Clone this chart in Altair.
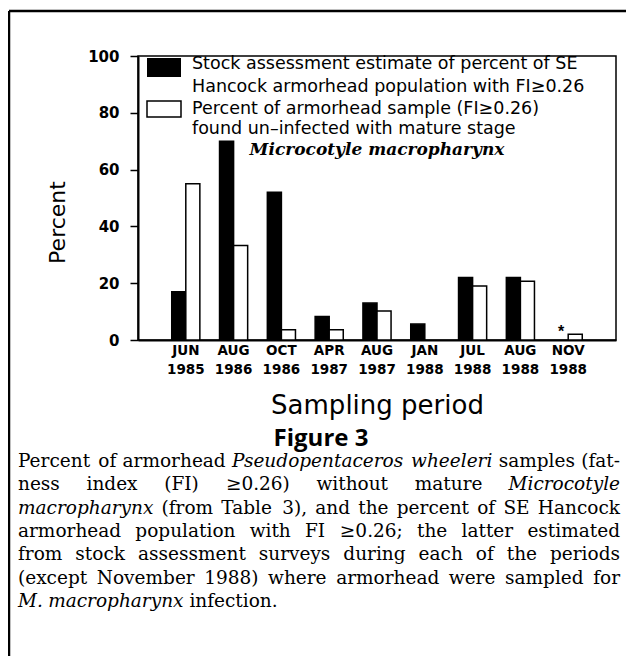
import altair as alt
import pandas as pd

# ---------------- data ----------------
periods = ["JUN 1985", "AUG 1986", "OCT 1986", "APR 1987", "AUG 1987",
           "JAN 1988", "JUL 1988", "AUG 1988", "NOV 1988"]
stock_pct = [17, 70, 52, 8.3, 13, 5.6, 22, 22, None]
sample_pct = [55, 33.3, 3.6, 3.6, 10.2, None, 19, 20.7, 2]
series_order = ["stock", "sample"]

legend_lines = ["Stock assessment estimate of percent of SE",
                "Hancock armorhead population with FI\u22650.26",
                "Percent of armorhead sample (FI\u22650.26)",
                "found un\u2013infected with mature stage"]
legend_species = "Microcotyle macropharynx"
figure_title = "Figure 3"
caption_lines = [
    "Percent of armorhead _Pseudopentaceros _wheeleri samples (fat-",
    "ness index (FI) \u22650.26) without mature _Microcotyle",
    "_macropharynx (from Table 3), and the percent of SE Hancock",
    "armorhead population with FI \u22650.26; the latter estimated",
    "from stock assessment surveys during each of the periods",
    "(except November 1988) where armorhead were sampled for",
    "_M. _macropharynx infection.",
]

# ---------------- layout helpers ----------------
OX, OY = 138, 56          # page position of plot origin
W, H = 478, 284

rows = []
for p, s, m in zip(periods, stock_pct, sample_pct):
    if s is not None:
        rows.append({"period": p, "series": "stock", "value": s})
    if m is not None:
        rows.append({"period": p, "series": "sample", "value": m})
bars_df = pd.DataFrame(rows)

# approx DejaVu Serif advance widths (em)
CW = dict(zip("abcdefghijklmnopqrstuvwxyz",
              [.596, .640, .560, .640, .592, .370, .640, .644, .320, .310, .611, .320, .948,
               .644, .602, .640, .640, .478, .513, .402, .644, .565, .856, .564, .565, .527]))
CW.update({" ": .318, "(": .390, ")": .390, ".": .318, ",": .318, ";": .337, "-": .338,
           "\u2265": .838, "P": .733, "S": .685, "E": .730, "H": .872, "T": .705, "F": .695,
           "I": .420, "N": .872, "M": .995})
for d in "0123456789":
    CW[d] = .636

CAP_SIZE = 18.5


def ww(word):
    return sum(CW.get(c, .62) for c in word) * CAP_SIZE


cap_rows = []
X0, X1 = 18, 620
cy0, cdy = 461, 23.3
for i, line in enumerate(caption_lines):
    words = line.split(" ")
    y = cy0 + i * cdy - OY
    justify = i < len(caption_lines) - 1
    clean = [w[1:] if w.startswith("_") else w for w in words]
    ital = [w.startswith("_") for w in words]
    widths = [ww(w) for w in clean]
    if justify:
        gap = (X1 - X0 - sum(widths)) / (len(words) - 1)
    else:
        gap = ww(" ")
    x = X0
    for j, (w, it, wd) in enumerate(zip(clean, ital, widths)):
        last = justify and j == len(words) - 1
        cap_rows.append({"t": w, "px": (X1 if last else x) - OX, "py": y,
                         "it": it, "al": "right" if last else "left"})
        x += wd + gap
cap_df = pd.DataFrame(cap_rows)


def cap_layer(it, al):
    d = cap_df[(cap_df.it == it) & (cap_df.al == al)]
    return alt.Chart(d).mark_text(
        font="DejaVu Serif", fontSize=CAP_SIZE, align=al, baseline="middle",
        fontStyle="italic" if it else "normal", color="black"
    ).encode(x=alt.X("px:Q", scale=None), y=alt.Y("py:Q", scale=None), text="t:N")


# ---------------- main chart ----------------
x_enc = alt.X("period:N", sort=periods,
              scale=alt.Scale(paddingInner=0, paddingOuter=0.5),
              axis=alt.Axis(labelExpr="split(datum.label, ' ')", labelAngle=0, ticks=False,
                            labelPadding=3, labelLineHeight=19, labelFont="DejaVu Sans",
                            labelFontWeight="bold", labelFontSize=13.5, labelColor="black",
                            domainColor="black", domainWidth=2,
                            title="Sampling period", titleFont="DejaVu Sans",
                            titleFontWeight="normal", titleFontSize=26, titleColor="black",
                            titleY=65, titleBaseline="middle"))
y_enc = alt.Y("value:Q", scale=alt.Scale(domain=[0, 100], nice=False),
              axis=alt.Axis(values=list(range(0, 101, 10)),
                            labelExpr="datum.value % 20 === 0 ? datum.label : ''",
                            tickSize={"condition": {"test": "datum.value % 20 === 0", "value": 8},
                                      "value": 4},
                            tickColor="black", tickWidth=1.5, labelPadding=11,
                            labelFont="DejaVu Sans", labelFontWeight="bold",
                            labelFontSize=15, labelColor="black", domainColor="black",
                            domainWidth=2, grid=False,
                            title="Percent", titleFont="DejaVu Sans", titleFontWeight="normal",
                            titleFontSize=22, titleColor="black", titleX=-81, titleY=166,
                            titleAlign="center", titleBaseline="middle", titleAngle=-90))
xo_enc = alt.XOffset("series:N", sort=series_order,
                     scale=alt.Scale(domain=series_order, paddingInner=0, paddingOuter=0.7))

bars = alt.Chart(bars_df).mark_bar(stroke="black", strokeWidth=1.5).encode(
    x=x_enc, y=y_enc, xOffset=xo_enc,
    fill=alt.Fill("series:N", scale=alt.Scale(domain=series_order, range=["black", "white"]),
                  legend=None))

star = alt.Chart(pd.DataFrame([{"period": "NOV 1988", "series": "stock", "value": 0, "s": "*"}])
                 ).mark_text(fontSize=16, font="Liberation Sans", fontWeight="bold",
                             baseline="middle", dy=-8, color="black").encode(
    x=alt.X("period:N", sort=periods), xOffset=xo_enc, y="value:Q", text="s:N")

one = alt.Data(values=[{"a": 1}])
leg_black = alt.Chart(one).mark_rect(fill="black").encode(
    x=alt.value(147 - OX), x2=alt.value(181 - OX), y=alt.value(58 - OY), y2=alt.value(77 - OY))
leg_white = alt.Chart(one).mark_rect(fill="white", stroke="black", strokeWidth=1.5).encode(
    x=alt.value(147 - OX), x2=alt.value(181 - OX), y=alt.value(101 - OY), y2=alt.value(117 - OY))

leg_y = [64, 87, 109, 129]
leg_df = pd.DataFrame({"t": legend_lines, "px": [192 - OX] * 4, "py": [v - OY for v in leg_y]})
leg_text = alt.Chart(leg_df).mark_text(font="DejaVu Sans", fontSize=17.5, fontWeight="normal",
                                       align="left", baseline="middle", color="black").encode(
    x=alt.X("px:Q", scale=None), y=alt.Y("py:Q", scale=None), text="t:N")
leg_sp = alt.Chart(pd.DataFrame({"t": [legend_species], "px": [377 - OX], "py": [150 - OY]})
                   ).mark_text(font="DejaVu Serif", fontSize=17, fontWeight="bold",
                               fontStyle="italic", align="center", baseline="middle",
                               color="black").encode(
    x=alt.X("px:Q", scale=None), y=alt.Y("py:Q", scale=None), text="t:N")

fig_t = alt.Chart(pd.DataFrame({"t": [figure_title], "px": [321 - OX], "py": [439 - OY]})
                  ).mark_text(font="Open Sans", fontSize=24, fontWeight="bold", align="center",
                              baseline="middle", color="black").encode(
    x=alt.X("px:Q", scale=None), y=alt.Y("py:Q", scale=None), text="t:N")

frame_v = alt.Chart(one).mark_rule(color="black", strokeWidth=2.5).encode(
    x=alt.value(9 - OX), y=alt.value(11 - OY), y2=alt.value(700))
frame_h = alt.Chart(one).mark_rule(color="black", strokeWidth=2.5).encode(
    x=alt.value(9 - OX), x2=alt.value(640 - OX), y=alt.value(11 - OY))

chart = alt.layer(
    bars, star, leg_black, leg_white, leg_text, leg_sp, fig_t,
    cap_layer(False, "left"), cap_layer(True, "left"), cap_layer(False, "right"),
    cap_layer(True, "right"), frame_v, frame_h
).properties(
    width=W, height=H,
    autosize=alt.AutoSizeParams(type="none"),
    padding={"left": OX - 8, "top": OY - 8, "right": 642 - 8 - 8 - OX - W, "bottom": 664 - 8 - OY - H},
    background="white",
).configure_view(stroke="black", strokeWidth=1.5)

chart.save("out.html", embed_options={"renderer": "svg", "actions": False})
